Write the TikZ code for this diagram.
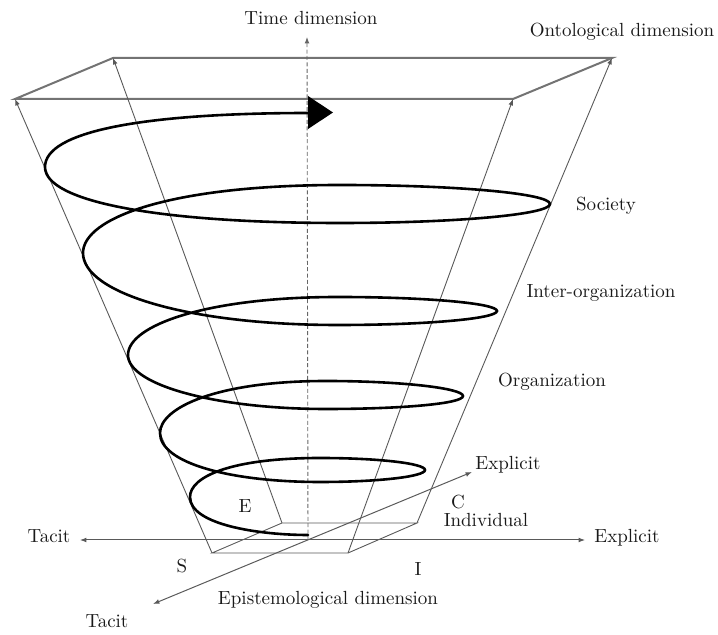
\documentclass[tikz,border=0pt]{standalone}
\usetikzlibrary{arrows.meta}
\begin{document}
\begin{tikzpicture}[x=0.5pt,y=-0.5pt,
  gline/.style={draw=black!65, line width=0.45pt},
  topedge/.style={draw=black!55, line width=1pt},
  uparrow/.style={draw=black!65, line width=0.45pt, -{Latex[length=3.2pt,width=2.4pt]}},
  twoway/.style={draw=black!65, line width=0.5pt, {Latex[length=3.2pt,width=2.4pt]}-{Latex[length=3.2pt,width=2.4pt]}},
  timeaxis/.style={draw=black!60, line width=0.45pt, dash pattern=on 2pt off 1.2pt, -{Latex[length=3.2pt,width=2.4pt]}},
  lbl/.style={font=\fontsize{9.5}{11}\selectfont, text=black!90, inner sep=0pt, text height=7pt, text depth=2pt},
  spiralline/.style={draw=black, line width=1.3pt, line cap=round}]
\useasboundingbox (0,0) rectangle (718,635);

% corners of the top and bottom planes
\coordinate (TBL) at (113,58);
\coordinate (TBR) at (612,58);
\coordinate (TFL) at (15,99);
\coordinate (TFR) at (513,99);
\coordinate (BFL) at (212,553);
\coordinate (BFR) at (348,553);
\coordinate (BBR) at (417,523);
\coordinate (BBL) at (282,523);
% axes
\coordinate (O) at (308,540);
\coordinate (TT) at (307,37);
\coordinate (XL) at (80,540);
\coordinate (XR) at (585,540);
\coordinate (DL) at (153,604);
\coordinate (DR) at (472,472);

% planes
\draw[topedge] (TFL) -- (TFR) -- (TBR) -- (TBL) -- cycle;
\draw[gline] (BFL) -- (BFR) -- (BBR) -- (BBL) -- cycle;

% slanted ontological edges
\draw[uparrow] (BFL) -- (TFL);
\draw[uparrow] (BBL) -- (TBL);
\draw[uparrow] (BFR) -- (TFR);
\draw[uparrow] (BBR) -- (TBR);

% axes
\draw[timeaxis] (O) -- (TT);
\draw[twoway] (XL) -- (XR);
\draw[twoway] (DL) -- (DR);

% spiral
\draw[spiralline] (308,535)
 .. controls (260,535) and (190,525) .. (190,497)
 .. controls (190,477) and (230,458) .. (320,458)
 .. controls (378,458) and (425,463.4) .. (425,470)
 .. controls (425,476.6) and (378,482) .. (320,482)
 .. controls (230,482) and (160,463) .. (160,433)
 .. controls (160,408) and (216,381) .. (326,381)
 .. controls (401.6,381) and (463,388.3) .. (463,396)
 .. controls (463,403.7) and (401.6,409) .. (326,409)
 .. controls (216,409) and (128,385) .. (128,355)
 .. controls (128,325) and (208,297) .. (338,297)
 .. controls (425.8,297) and (497,303.3) .. (497,311)
 .. controls (497,318.7) and (425.8,325) .. (338,325)
 .. controls (188,325) and (83,293) .. (83,253)
 .. controls (83,218) and (170,185) .. (340,185)
 .. controls (455.9,185) and (550,193.5) .. (550,204)
 .. controls (550,214.5) and (455.9,223) .. (340,223)
 .. controls (160,223) and (45,202) .. (45,167)
 .. controls (45,132) and (140,113) .. (310,113);
\fill[black] (308,96) -- (333,112.5) -- (308,129) -- cycle;

% labels
\node[lbl] (ltime) at (311,20) {Time dimension};
\node[lbl] (lonto) at (622,32) {Ontological dimension};
\node[lbl] (lsoc) at (606,206) {Society};
\node[lbl] (linter) at (601,293) {Inter-organization};
\node[lbl] (lorg) at (552,382) {Organization};
\node[lbl] (lexpu) at (508,465) {Explicit};
\node[lbl] (lc) at (458,504) {C};
\node[lbl] (lind) at (486,522) {Individual};
\node[lbl] (lexpr) at (627,538) {Explicit};
\node[lbl] (ltacl) at (49,538) {Tacit};
\node[lbl] (le) at (245,508) {E};
\node[lbl] (ls) at (182,568) {S};
\node[lbl] (li) at (418,571) {I};
\node[lbl] (lepi) at (328,600) {Epistemological dimension};
\node[lbl] (ltacd) at (107,623) {Tacit};
\end{tikzpicture}
\end{document}
